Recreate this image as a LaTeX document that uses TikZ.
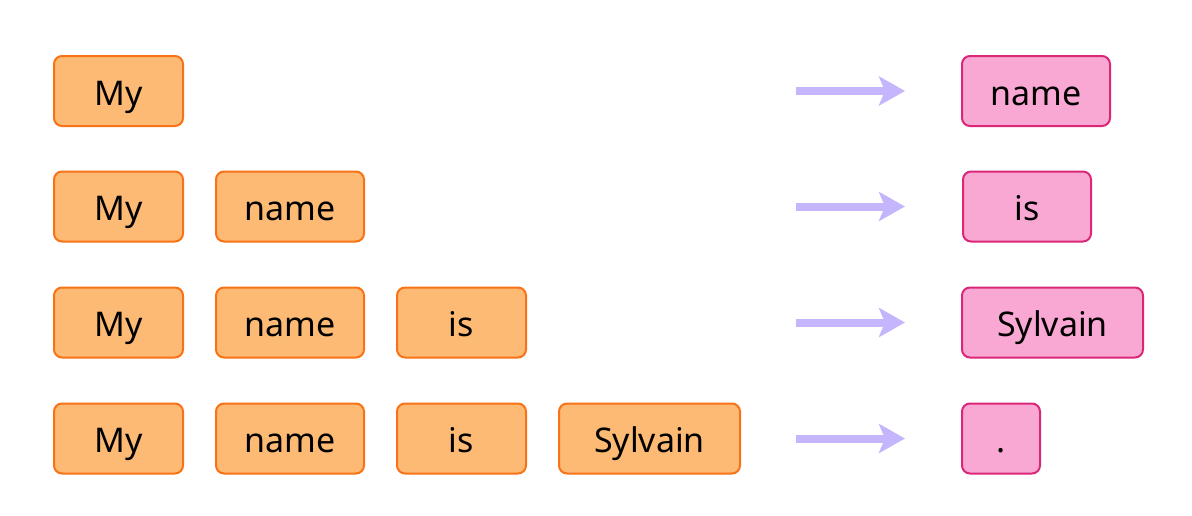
\documentclass[tikz,border=0pt]{standalone}
\usepackage{fontspec}
\setmainfont{Noto Sans}
\usetikzlibrary{arrows.meta}
\definecolor{inFill}{HTML}{FDBA74}
\definecolor{inLine}{HTML}{F97316}
\definecolor{outFill}{HTML}{F9A8D4}
\definecolor{outLine}{HTML}{DB2777}
\definecolor{arrowCol}{HTML}{C4B5FD}
\tikzset{
  token/.style={rounded corners=8pt, line width=2pt, minimum height=70pt,
    inner sep=0pt, text height=33pt, text depth=5pt,
    font=\fontsize{34}{38}\selectfont, text=black},
  intok/.style={token, draw=inLine, fill=inFill},
  outtok/.style={token, draw=outLine, fill=outFill},
  predarrow/.style={draw=arrowCol, line width=8pt,
    -{Stealth[length=26pt, width=29pt, inset=6pt, fill=arrowCol]}},
}
\begin{document}
\begin{tikzpicture}[x=1pt, y=-1pt]
\useasboundingbox (0,0) rectangle (1192,515);

% context tokens, one row per step
\node[intok, minimum width=129pt] (a1) at (118.5,91) {My};

\node[intok, minimum width=129pt] (b1) at (118.5,206.5) {My};
\node[intok, minimum width=148pt] (b2) at (290,206.5) {name};

\node[intok, minimum width=129pt] (c1) at (118.5,322.5) {My};
\node[intok, minimum width=148pt] (c2) at (290,322.5) {name};
\node[intok, minimum width=129pt] (c3) at (461.5,322.5) {is};

\node[intok, minimum width=129pt] (d1) at (118.5,438.5) {My};
\node[intok, minimum width=148pt] (d2) at (290,438.5) {name};
\node[intok, minimum width=129pt] (d3) at (461.5,438.5) {is};
\node[intok, minimum width=181pt] (d4) at (649.5,438.5) {Sylvain};

% predicted next tokens
\node[outtok, minimum width=148pt] (pa) at (1036,91) {name};
\node[outtok, minimum width=128pt] (pb) at (1027,206.5) {is};
\node[outtok, minimum width=181pt] (pc) at (1052.5,322.5) {Sylvain};
\node[outtok, minimum width=78pt] (pd) at (1001,438.5) {.};

% arrow end points
\coordinate (sa) at (796,91);    \coordinate (ea) at (905,91);
\coordinate (sb) at (796,206.5); \coordinate (eb) at (905,206.5);
\coordinate (sc) at (796,322.5); \coordinate (ec) at (905,322.5);
\coordinate (sd) at (796,438.5); \coordinate (ed) at (905,438.5);

\draw[predarrow] (sa) -- (ea);
\draw[predarrow] (sb) -- (eb);
\draw[predarrow] (sc) -- (ec);
\draw[predarrow] (sd) -- (ed);
\end{tikzpicture}
\end{document}
